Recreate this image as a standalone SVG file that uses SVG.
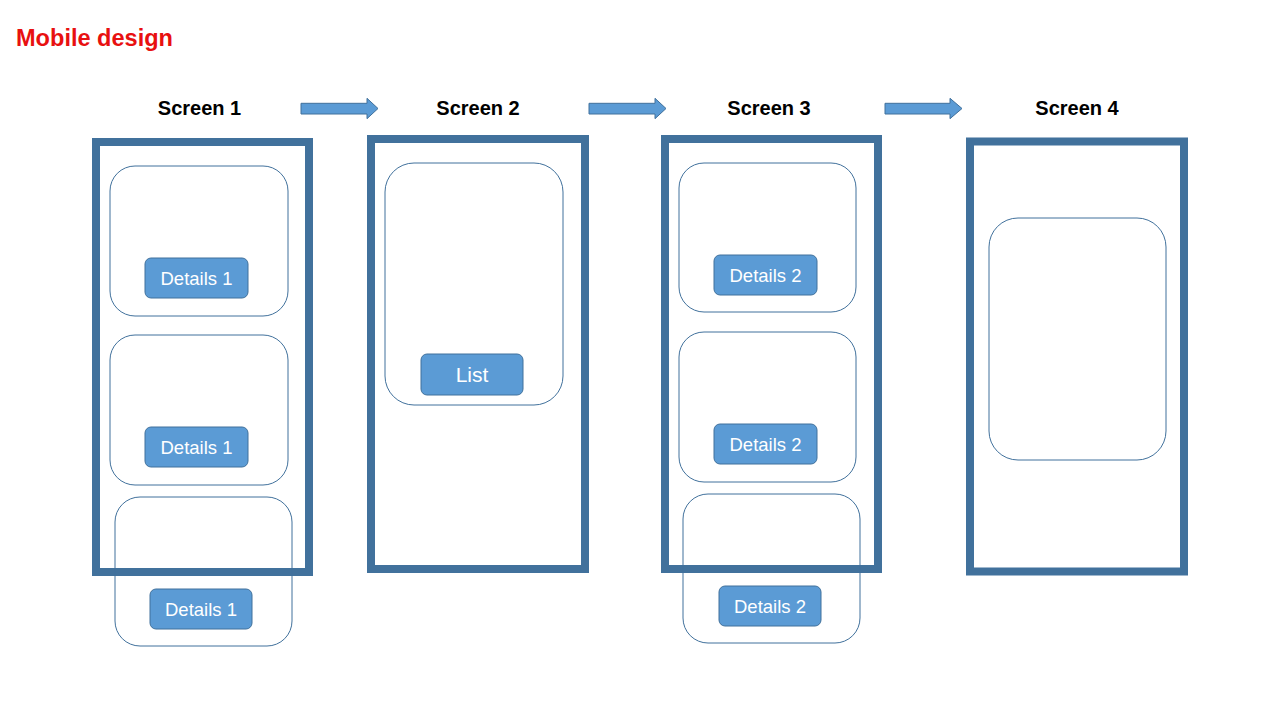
<svg xmlns="http://www.w3.org/2000/svg" width="1280" height="720" viewBox="0 0 1280 720">
<style>
.frame{fill:#FFFFFF;stroke:#41719C;stroke-width:8}
.card{fill:none;stroke:#41719C;stroke-width:1}
.btn{fill:#5B9BD5;stroke:#41719C;stroke-width:1}
.btxt{font-family:"Liberation Sans",Arial,sans-serif;font-size:18.5px;fill:#FFFFFF;text-anchor:middle}
.big{font-size:21px}
.title{font-family:"Liberation Sans",Arial,sans-serif;font-size:20px;font-weight:bold;fill:#000000;text-anchor:middle}
.arrow{fill:#5B9BD5;stroke:#41719C;stroke-width:1}
</style>
<rect x="0" y="0" width="1280" height="720" fill="#FFFFFF"/>
<text x="16" y="46" font-family="'Liberation Sans',Arial,sans-serif" font-size="23" font-weight="bold" fill="#E81010" textLength="157" lengthAdjust="spacingAndGlyphs">Mobile design</text>

<g id="screen1">
<text class="title" x="199.5" y="115">Screen 1</text>
<rect class="frame" x="96" y="142" width="213" height="430"/>
<rect class="card" x="110" y="166" width="178" height="150" rx="25"/>
<rect class="btn" x="145" y="258" width="103" height="40" rx="6"/>
<text class="btxt" x="196.5" y="285">Details 1</text>
<rect class="card" x="110" y="335" width="178" height="150" rx="25"/>
<rect class="btn" x="145" y="427" width="103" height="40" rx="6"/>
<text class="btxt" x="196.5" y="454">Details 1</text>
<rect class="card" x="115" y="497" width="177" height="149" rx="25"/>
<rect class="btn" x="150" y="589" width="102" height="40" rx="6"/>
<text class="btxt" x="201" y="616">Details 1</text>
</g>

<g id="screen2">
<text class="title" x="478" y="115">Screen 2</text>
<rect class="frame" x="371" y="139" width="214" height="430"/>
<rect class="card" x="385" y="163" width="178" height="242" rx="29"/>
<rect class="btn" x="421" y="354" width="102" height="41" rx="6"/>
<text class="btxt big" x="472" y="382">List</text>
</g>

<g id="screen3">
<text class="title" x="769" y="115">Screen 3</text>
<rect class="frame" x="665" y="139" width="213" height="430"/>
<rect class="card" x="679" y="163" width="177" height="149" rx="25"/>
<rect class="btn" x="714" y="255" width="103" height="40" rx="6"/>
<text class="btxt" x="765.5" y="282">Details 2</text>
<rect class="card" x="679" y="332" width="177" height="150" rx="25"/>
<rect class="btn" x="714" y="424" width="103" height="40" rx="6"/>
<text class="btxt" x="765.5" y="451">Details 2</text>
<rect class="card" x="683" y="494" width="177" height="149" rx="25"/>
<rect class="btn" x="719" y="586" width="102" height="40" rx="6"/>
<text class="btxt" x="770" y="613">Details 2</text>
</g>

<g id="screen4">
<text class="title" x="1077" y="115">Screen 4</text>
<rect class="frame" x="970" y="141.5" width="214" height="430"/>
<rect class="card" x="989" y="218" width="177" height="242" rx="29"/>
</g>

<g id="connectors">
<polygon class="arrow" points="301,103.3 367,103.3 367,98.3 378,108.5 367,118.7 367,114 301,114"/>
<polygon class="arrow" points="589,103.3 655,103.3 655,98.3 666,108.5 655,118.7 655,114 589,114"/>
<polygon class="arrow" points="885,103.3 950,103.3 950,98.3 962,108.5 950,118.7 950,114 885,114"/>
</g>
</svg>
